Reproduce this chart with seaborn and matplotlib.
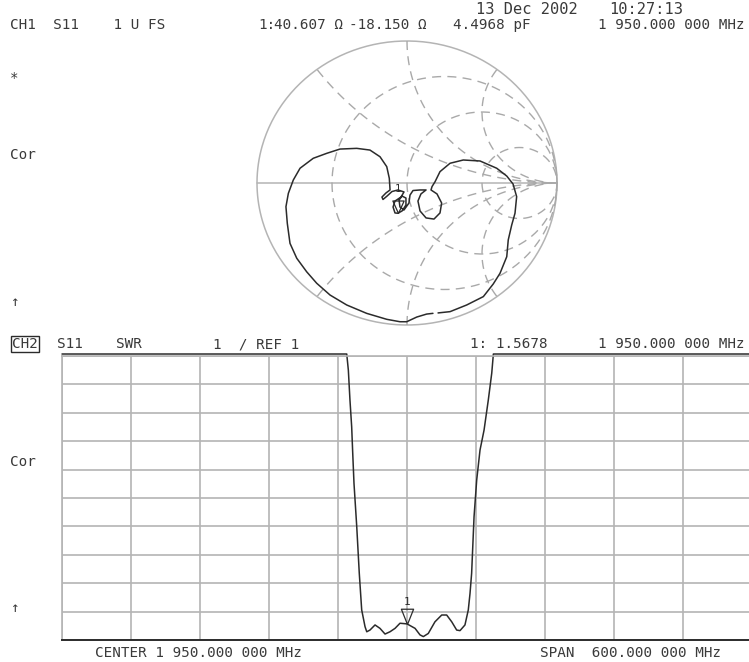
import matplotlib

matplotlib.use("Agg")
import matplotlib.pyplot as plt
import numpy as np
import pandas as pd
import seaborn as sns

# Channel 1: S11 on Smith chart, normalised reflection coefficient (re, im)
smith_re = [
    0.173, 0.131, 0.065, -0.002, -0.047, -0.135, -0.269, -0.402, -0.513, -0.602,
    -0.669, -0.735, -0.780, -0.798, -0.807, -0.791, -0.758, -0.713, -0.625, -0.535,
    -0.447, -0.335, -0.247, -0.180, -0.135, -0.118, -0.113, -0.140, -0.167, -0.160,
    -0.133, -0.100, -0.060, -0.020, -0.040, -0.080, -0.093, -0.080, -0.061, -0.033,
    -0.007, -0.007, -0.033, -0.053, -0.047, -0.020, 0.013, 0.020, 0.040, 0.087,
    0.127, 0.093, 0.073, 0.087, 0.127, 0.180, 0.220, 0.231, 0.200, 0.160,
    0.167, 0.187, 0.220, 0.287, 0.375, 0.487, 0.598, 0.665, 0.707, 0.731,
    0.720, 0.698, 0.675, 0.665, 0.620, 0.575, 0.509, 0.398, 0.287, 0.207,
]
smith_im = [
    -0.918, -0.923, -0.944, -0.977, -0.977, -0.960, -0.918, -0.859, -0.789, -0.706,
    -0.625, -0.530, -0.425, -0.284, -0.167, -0.073, 0.021, 0.104, 0.174, 0.209,
    0.239, 0.244, 0.232, 0.185, 0.115, 0.033, -0.049, -0.070, -0.099, -0.116,
    -0.092, -0.060, -0.049, -0.063, -0.099, -0.127, -0.169, -0.211, -0.213, -0.197,
    -0.155, -0.106, -0.092, -0.120, -0.169, -0.190, -0.141, -0.085, -0.053, -0.049,
    -0.049, -0.077, -0.127, -0.197, -0.246, -0.254, -0.211, -0.141, -0.077, -0.049,
    -0.025, 0.009, 0.080, 0.139, 0.162, 0.155, 0.104, 0.049, -0.007, -0.096,
    -0.213, -0.296, -0.401, -0.519, -0.636, -0.711, -0.800, -0.859, -0.906, -0.915,
]
marker_z = (40.607, -18.150)  # ohms at marker 1
z0 = 50.0

# Channel 2: SWR vs frequency (MHz)
freq_mhz = [
    1650, 1700, 1750, 1800, 1850, 1890, 1897.6, 1899.0, 1900.4, 1901.9,
    1902.8, 1903.9, 1906.3, 1908.5, 1910.6, 1913.5, 1915.0, 1917.8, 1922.2, 1926.5,
    1930.9, 1935.2, 1939.6, 1943.9, 1950.0, 1957.0, 1961.3, 1964.2, 1968.5, 1974.3,
    1980.2, 1984.5, 1988.9, 1993.2, 1996.1, 2000.4, 2003.3, 2004.8, 2006.2, 2008.3,
    2010.6, 2013.5, 2017.0, 2020.7, 2023.7, 2025.1, 2040, 2100, 2150, 2250,
]
swr = [
    60, 55, 45, 35, 25, 14, 11.2, 10.5, 9.45, 8.5,
    7.58, 6.52, 4.99, 3.35, 2.06, 1.47, 1.29, 1.35, 1.53, 1.41,
    1.21, 1.29, 1.41, 1.59, 1.5678, 1.41, 1.18, 1.12, 1.23, 1.64,
    1.88, 1.88, 1.64, 1.35, 1.33, 1.53, 2.06, 2.64, 3.35, 5.34,
    6.63, 7.69, 8.39, 9.45, 10.4, 11.2, 20, 35, 45, 60,
]
marker_freq = 1950.0
marker_swr = 1.5678

smith_r = [1 / 3, 1.0, 3.0]
smith_x = [0.5, 1.0, 2.0, -0.5, -1.0, -2.0]

header_texts = {
    "date": "13 Dec 2002",
    "time": "10:27:13",
    "ch1": "CH1  S11    1 U FS",
    "ch1_mk": "1:",
    "ch1_r": "40.607 Ω",
    "ch1_x": "-18.150 Ω",
    "ch1_c": "4.4968 pF",
    "freq": "1 950.000 000 MHz",
    "ch2_a": "S11",
    "ch2_b": "SWR",
    "ch2_c": "1  / REF 1",
    "ch2_mk": "1: 1.5678",
    "center": "CENTER 1 950.000 000 MHz",
    "span": "SPAN  600.000 000 MHz",
}

W, H = 749, 662
grid_c = "#b4b4b4"
dash_c = "#a9a9a9"
ink = "#2b2b2b"
txt_c = "#3a3a3a"

sns.set_style("white")
plt.rcParams["font.family"] = ["DejaVu Sans Mono", "DejaVu Sans"]

fig = plt.figure(figsize=(W / 100, H / 100), dpi=100)
fig.patch.set_facecolor("white")


def fpos(x, y):
    return x / W, 1 - y / H


def inside_arc(cx, cy, rad, n=720):
    t = np.linspace(0, 2 * np.pi, n, endpoint=False)
    x = cx + rad * np.cos(t)
    y = cy + rad * np.sin(t)
    inside = x**2 + y**2 <= 1 + 1e-9
    start = np.where(inside & ~np.roll(inside, 1))[0][0]
    x, y, inside = np.roll(x, -start), np.roll(y, -start), np.roll(inside, -start)
    k = np.argmin(inside) if not inside.all() else len(x)
    x, y = x[:k], y[:k]
    # begin dashes at the outer rim
    if (x[0] - 1) ** 2 + y[0] ** 2 < (x[-1] - 1) ** 2 + y[-1] ** 2:
        x, y = x[::-1], y[::-1]
    return x, y


# ---- Smith chart (channel 1)
cx_px, cy_px, ax_px, ay_px = 407, 183, 150, 142
lim = 1.05
ax_s = fig.add_axes(
    [
        (cx_px - ax_px * lim) / W,
        1 - (cy_px + ay_px * lim) / H,
        2 * ax_px * lim / W,
        2 * ay_px * lim / H,
    ]
)
ax_s.set_xlim(-lim, lim)
ax_s.set_ylim(-lim, lim)
ax_s.axis("off")

t = np.linspace(0, 2 * np.pi, 400)
ax_s.plot(np.cos(t), np.sin(t), color=grid_c, lw=1.1)
ax_s.plot([-1, 1], [0, 0], color=grid_c, lw=1.1)

for r in smith_r:
    c, rad = r / (1 + r), 1 / (1 + r)
    ang = np.linspace(np.pi, 3 * np.pi, 400)
    ax_s.plot(c + rad * np.cos(ang), rad * np.sin(ang), color=dash_c, lw=1.0,
              dashes=(6.5, 4.5))
for xv in smith_x:
    ux, uy = inside_arc(1.0, 1 / xv, 1 / abs(xv))
    ax_s.plot(ux, uy, color=dash_c, lw=1.0, dashes=(6.5, 4.5))

smith_df = pd.DataFrame({"re": smith_re, "im": smith_im})
sns.lineplot(data=smith_df, x="re", y="im", sort=False, estimator=None,
             ax=ax_s, color=ink, lw=1.1)

zn = complex(*marker_z) / z0
gam = (zn - 1) / (zn + 1)
tri = [(0, 0), (-0.45, 1), (0.45, 1), (0, 0)]
ax_s.plot([gam.real], [gam.imag], marker=tri, ms=18, mfc="none", mec=ink,
          mew=0.9, ls="none")
ax_s.annotate("1", (gam.real, gam.imag), xytext=(0, 14), textcoords="offset points",
              ha="center", va="bottom", fontsize=7.5, color=ink)

# ---- SWR plot (channel 2)
ax_w = fig.add_axes([62 / W, 1 - 640 / H, 690 / W, 284 / H])
ax_w.set_xlim(1650, 2250)
ax_w.set_ylim(1, 11)
ax_w.set_xticks(np.arange(1650, 2251, 60))
ax_w.set_yticks(np.arange(1, 12, 1))
ax_w.tick_params(length=0, labelbottom=False, labelleft=False)
ax_w.grid(True, color=grid_c, lw=1.2)
for side in ["left", "top"]:
    ax_w.spines[side].set_color(grid_c)
    ax_w.spines[side].set_linewidth(1.2)
ax_w.spines["right"].set_visible(False)
ax_w.spines["bottom"].set_color(ink)
ax_w.spines["bottom"].set_linewidth(1.4)

swr_df = pd.DataFrame({"freq": freq_mhz, "swr": np.clip(swr, 1, 11.07)})
sns.lineplot(data=swr_df, x="freq", y="swr", sort=False, estimator=None,
             ax=ax_w, color=ink, lw=1.1, clip_on=False)
ax_w.set_xlabel("")
ax_w.set_ylabel("")
ax_w.plot([marker_freq], [marker_swr], marker=[(0, 0), (-0.4, 1), (0.4, 1), (0, 0)],
          ms=22, mfc="none", mec=ink, mew=0.9, ls="none")
ax_w.annotate("1", (marker_freq, marker_swr), xytext=(0, 12.5),
              textcoords="offset points", ha="center", va="bottom",
              fontsize=8, color=ink)

# ---- annotation text
fs = 10.3
items = [
    (header_texts["date"], 476, 9, fs * 1.08),
    (header_texts["time"], 609, 9, fs * 1.08),
    (header_texts["ch1"], 10, 25, fs),
    (header_texts["ch1_mk"], 258, 25, fs),
    (header_texts["ch1_r"], 274, 25, fs),
    (header_texts["ch1_x"], 349, 25, fs),
    (header_texts["ch1_c"], 453, 25, fs),
    (header_texts["freq"], 598, 25, fs),
    ("*", 10, 78, fs),
    ("Cor", 10, 155, fs),
    ("↑", 11, 302, fs),
    (header_texts["ch2_a"], 57, 344, fs),
    (header_texts["ch2_b"], 116, 344, fs),
    (header_texts["ch2_c"], 213, 344, fs),
    (header_texts["ch2_mk"], 470, 344, fs),
    (header_texts["freq"], 598, 344, fs),
    ("Cor", 10, 462, fs),
    ("↑", 11, 608, fs),
    (header_texts["center"], 95, 653, fs),
    (header_texts["span"], 540, 653, fs),
]
for s, x, y, size in items:
    fig.text(*fpos(x, y), s, ha="left", va="center", fontsize=size, color=txt_c)

fig.text(*fpos(12, 344), "CH2", ha="left", va="center", fontsize=fs, color=txt_c,
         bbox=dict(boxstyle="square,pad=0.1", fc="white", ec=ink, lw=1.0))

fig.savefig("out.png", dpi=100, facecolor="white")
